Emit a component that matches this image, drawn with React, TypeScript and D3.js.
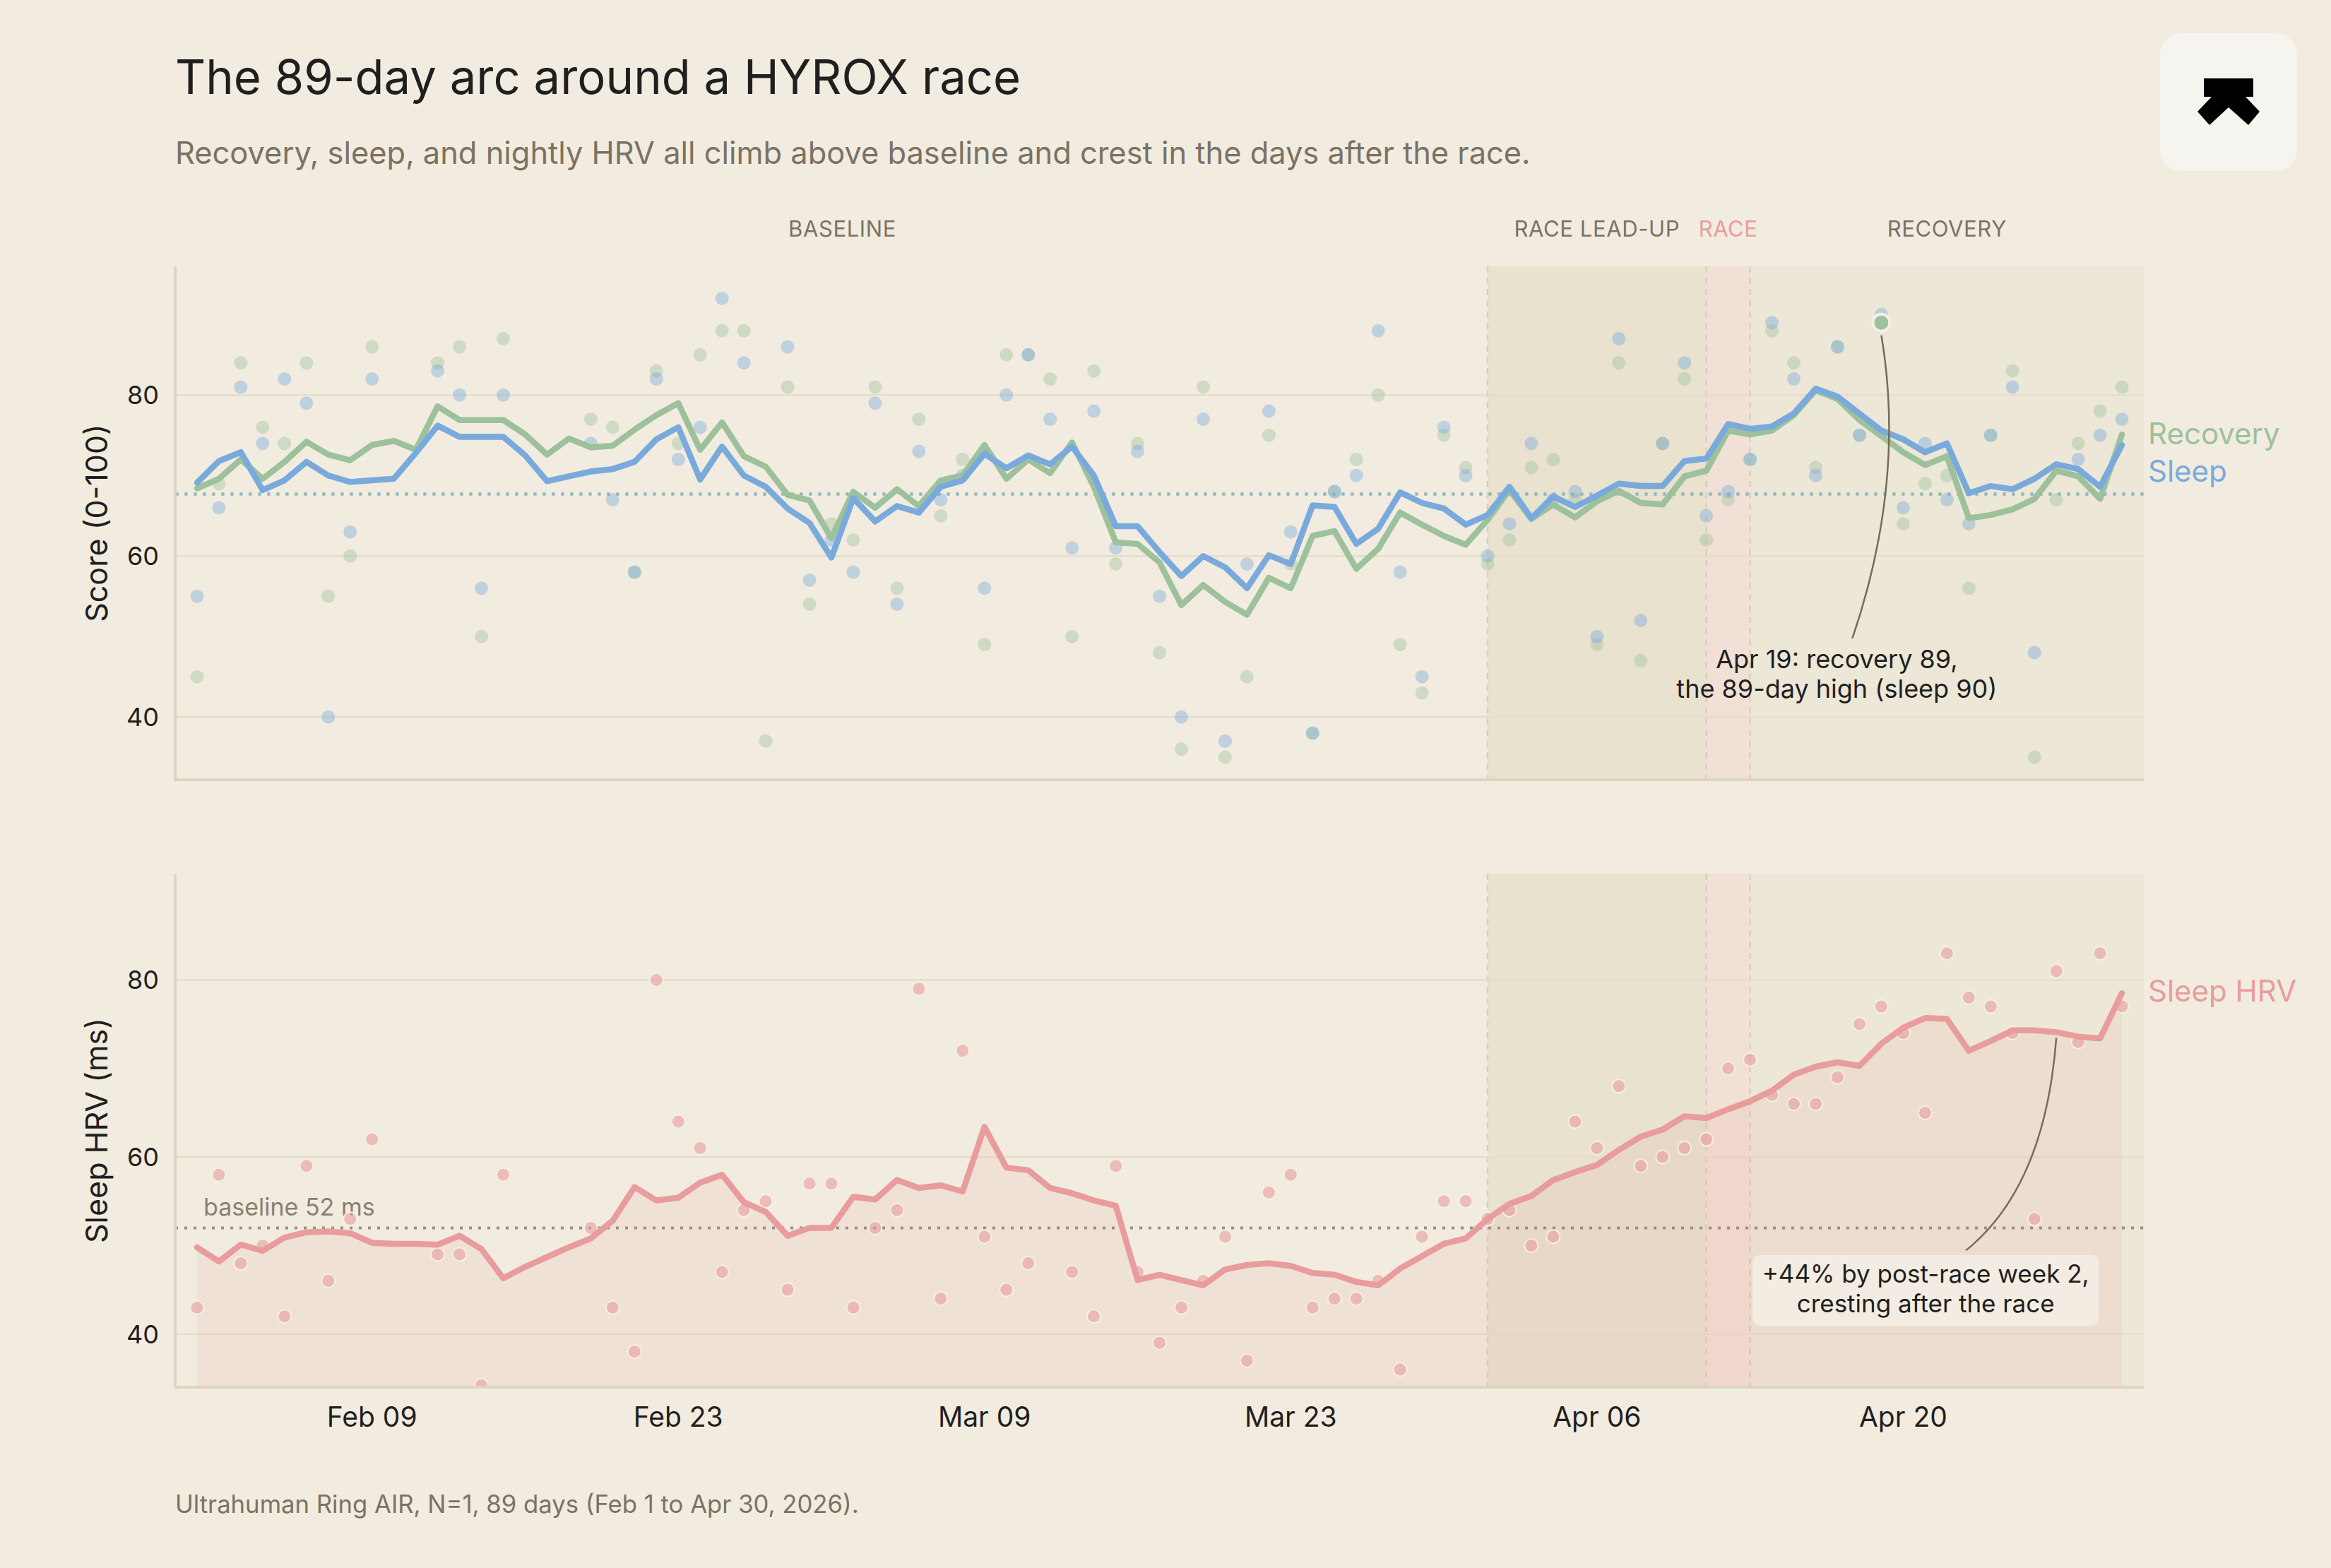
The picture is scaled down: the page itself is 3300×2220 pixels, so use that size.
import React, { useEffect } from "react";
import * as d3 from "d3";

// ---------- data ----------
const startDate = "2026-02-01";
const domainStart = "2026-01-31";
const domainEnd = "2026-05-01";

const recoveryAvg = [
  68.4, 69.6, 72.0, 69.6, 71.7, 74.2, 72.6, 71.9, 73.8, 74.3,
  73.2, 78.6, 76.9, 76.9, 76.9, 75.1, 72.6, 74.6, 73.5, 73.7,
  75.7, 77.5, 79.0, 73.2, 76.6, 72.4, 71.1, 67.6, 66.9, 62.2,
  68.0, 66.0, 68.3, 66.2, 69.4, 70.0, 73.8, 69.6, 72.0, 70.3,
  74.1, 68.6, 61.7, 61.5, 59.2, 53.9, 56.4, 54.3, 52.7, 57.3,
  56.0, 62.5, 63.1, 58.4, 60.9, 65.4, 63.9, 62.5, 61.4, 64.5,
  68.2, 64.6, 66.4, 64.8, 66.8, 68.1, 66.6, 66.4, 69.9, 70.6,
  75.6, 75.1, 75.6, 77.5, 80.6, 79.5, 76.9, 74.9, 72.9, 71.3,
  72.4, 64.7, 65.1, 65.8, 67.1, 70.6, 69.9, 67.1, 75.1,
];
const sleepAvg = [
  69.1, 71.8, 72.9, 68.2, 69.4, 71.7, 70.0, 69.2, 69.4, 69.6,
  72.8, 76.2, 74.8, 74.8, 74.8, 72.5, 69.3, 69.9, 70.5, 70.8,
  71.7, 74.5, 76.0, 69.5, 73.6, 70.0, 68.6, 65.9, 64.1, 59.8,
  67.2, 64.3, 66.2, 65.4, 68.6, 69.4, 72.7, 70.9, 72.5, 71.4,
  73.6, 70.0, 63.7, 63.7, 60.5, 57.5, 60.0, 58.6, 56.0, 60.1,
  59.0, 66.3, 66.1, 61.5, 63.4, 67.9, 66.6, 65.9, 63.9, 65.1,
  68.6, 64.7, 67.4, 66.1, 67.5, 69.0, 68.7, 68.7, 71.8, 72.1,
  76.4, 75.8, 76.1, 77.7, 80.8, 79.8, 77.7, 75.6, 74.5, 72.9,
  74.0, 67.8, 68.7, 68.3, 69.6, 71.4, 70.8, 68.6, 73.8,
];
const recoveryRaw: (number | null)[] = [
  45, 69, 84, 76, 74, 84, 55, 60, 86, null,
  null, 84, 86, 50, 87, null, null, null, 77, 76,
  58, 83, 74, 85, 88, 88, 37, 81, 54, 64,
  62, 81, 56, 77, 65, 72, 49, 85, 85, 82,
  50, 83, 59, 74, 48, 36, 81, 35, 45, 75,
  59, 38, 68, 72, 80, 49, 43, 75, 71, 59,
  62, 71, 72, 67, 49, 84, 47, 74, 82, 62,
  67, 72, 88, 84, 71, 86, 75, 89, 64, 69,
  70, 56, 75, 83, 35, 67, 74, 78, 81,
];
const sleepRaw: (number | null)[] = [
  55, 66, 81, 74, 82, 79, 40, 63, 82, null,
  null, 83, 80, 56, 80, null, null, null, 74, 67,
  58, 82, 72, 76, 92, 84, null, 86, 57, 62,
  58, 79, 54, 73, 67, 70, 56, 80, 85, 77,
  61, 78, 61, 73, 55, 40, 77, 37, 59, 78,
  63, 38, 68, 70, 88, 58, 45, 76, 70, 60,
  64, 74, 67, 68, 50, 87, 52, 74, 84, 65,
  68, 72, 89, 82, 70, 86, 75, 90, 66, 74,
  67, 64, 75, 81, 48, null, 72, 75, 77,
];
const hrvAvg = [
  49.8, 48.2, 50.1, 49.4, 50.9, 51.5, 51.6, 51.4, 50.3, 50.2,
  50.2, 50.1, 51.1, 49.6, 46.3, 47.6, 48.7, 49.8, 50.8, 52.8,
  56.6, 55.1, 55.4, 57.1, 58.0, 54.9, 53.8, 51.1, 52.0, 52.0,
  55.5, 55.2, 57.4, 56.5, 56.8, 56.1, 63.4, 58.8, 58.5, 56.5,
  55.9, 55.1, 54.5, 46.1, 46.7, 46.1, 45.5, 47.3, 47.8, 48.0,
  47.7, 46.9, 46.7, 45.9, 45.5, 47.4, 48.8, 50.2, 50.8, 53.0,
  54.7, 55.6, 57.4, 58.3, 59.1, 60.8, 62.3, 63.1, 64.6, 64.4,
  65.4, 66.3, 67.5, 69.3, 70.2, 70.7, 70.3, 72.8, 74.6, 75.7,
  75.6, 72.0, 73.1, 74.3, 74.3, 74.1, 73.6, 73.4, 78.5,
];
const hrvRaw: (number | null)[] = [
  43, 58, 48, 50, 42, 59, 46, 53, 62, null,
  null, 49, 49, 34.2, 58, null, null, null, 52, 43,
  38, 80, 64, 61, 47, 54, 55, 45, 57, 57,
  43, 52, 54, 79, 44, 72, 51, 45, 48, null,
  47, 42, 59, 47, 39, 43, 46, 51, 37, 56,
  58, 43, 44, 44, 46, 36, 51, 55, 55, 53,
  54, 50, 51, 64, 61, 68, 59, 60, 61, 62,
  70, 71, 67, 66, 66, 69, 75, 77, 74, 65,
  83, 78, 77, 74, 53, 81, 73, 83, 77,
];

const tickDates = ["2026-02-09", "2026-02-23", "2026-03-09", "2026-03-23", "2026-04-06", "2026-04-20"];
const scoreTicks = [40, 60, 80];
const hrvTicks = [40, 60, 80];
const scoreDomain = [32.2, 96];
const hrvDomain = [34, 92];

const phases = [
  { label: "BASELINE", start: "2026-02-01", end: "2026-04-01", kind: "baseline" },
  { label: "RACE LEAD-UP", start: "2026-04-01", end: "2026-04-11", kind: "lead" },
  { label: "RACE", start: "2026-04-11", end: "2026-04-13", kind: "race" },
  { label: "RECOVERY", start: "2026-04-13", end: "2026-05-01", kind: "recovery" },
];

const recoveryBaseline = 67.7;
const sleepBaseline = 67.7;
const hrvBaseline = 52;
const highlightDate = "2026-04-19";
const highlightValue = 89;
const hrvNoteDate = "2026-04-27";

// ---------- style ----------
const C = {
  bg: "#f2ece0",
  green: "#9dc19b",
  blue: "#7aaadc",
  pink: "#e89c9c",
  grid: "#e6ddcb",
  axis: "#ddd5c1",
  text: "#1f1f1f",
  muted: "#7b7264",
  lead: "#e8e2cf",
  race: "#f0e0d6",
  recovery: "#ede7d7",
  divider: "#d8cfbd",
};
const FONT = "Inter, 'Noto Sans', sans-serif";

const W = 3300;
const H = 2220;
const L = 248;
const R = 3035;
const top1 = 377, bot1 = 1104;
const top2 = 1237, bot2 = 1964;

const parse = d3.utcParse("%Y-%m-%d");
const dates = recoveryAvg.map((_, i) => d3.utcDay.offset(parse(startDate)!, i));

export default function App() {
  useEffect(() => {
    document.body.style.margin = "0";
    document.body.style.background = C.bg;
  }, []);

  const x = d3.scaleUtc().domain([parse(domainStart)!, parse(domainEnd)!]).range([L, R]);
  const y1 = d3.scaleLinear().domain(scoreDomain).range([bot1, top1]);
  const y2 = d3.scaleLinear().domain(hrvDomain).range([bot2, top2]);

  const lineFor = (ys: d3.ScaleLinear<number, number>) =>
    d3.line<number>().x((_, i) => x(dates[i])).y((v) => ys(v));
  const recLine = lineFor(y1)(recoveryAvg)!;
  const slpLine = lineFor(y1)(sleepAvg)!;
  const hrvLine = lineFor(y2)(hrvAvg)!;
  const hrvArea = d3
    .area<number>()
    .x((_, i) => x(dates[i]))
    .y0(bot2)
    .y1((v) => y2(v))(hrvAvg)!;

  const bandFill: Record<string, string> = { lead: C.lead, race: C.race, recovery: C.recovery };

  const bands = (top: number, bot: number) =>
    phases
      .filter((p) => p.kind !== "baseline")
      .map((p) => (
        <rect
          key={p.label + top}
          x={x(parse(p.start)!)}
          y={top}
          width={x(parse(p.end)!) - x(parse(p.start)!)}
          height={bot - top}
          fill={bandFill[p.kind]}
        />
      ));

  const dividers = (top: number, bot: number) =>
    [phases[1].start, phases[2].start, phases[2].end].map((d) => (
      <line
        key={d + top}
        x1={x(parse(d)!)}
        x2={x(parse(d)!)}
        y1={top}
        y2={bot}
        stroke={C.divider}
        strokeWidth={2.5}
        strokeDasharray="9 7"
      />
    ));

  const grid = (ys: d3.ScaleLinear<number, number>, ticks: number[], key: string) =>
    ticks.map((t) => (
      <line key={key + t} x1={L} x2={R} y1={ys(t)} y2={ys(t)} stroke={C.grid} strokeWidth={2.5} />
    ));

  const yLabels = (ys: d3.ScaleLinear<number, number>, ticks: number[], key: string) =>
    ticks.map((t) => (
      <text key={key + t} x={225} y={ys(t) + 13} textAnchor="end" fontSize={36} fill={C.text}>
        {t}
      </text>
    ));

  const dots = (vals: (number | null)[], ys: d3.ScaleLinear<number, number>, color: string, op: number, stroke?: string) =>
    vals.map((v, i) =>
      v == null ? null : (
        <circle
          key={color + i}
          cx={x(dates[i])}
          cy={ys(v)}
          r={9.5}
          fill={color}
          fillOpacity={op}
          stroke={stroke || "none"}
          strokeWidth={stroke ? 2 : 0}
        />
      )
    );

  const fmt = d3.utcFormat("%b %d");
  const hx = x(parse(highlightDate)!);
  const hy = y1(highlightValue);

  const nIdx = dates.findIndex((d) => +d === +parse(hrvNoteDate)!);
  const nx = x(dates[nIdx]);
  const ny = y2(hrvAvg[nIdx]) + 8;

  return (
    <svg width={W} height={H} style={{ display: "block", fontFamily: FONT }}>
      <defs>
        <clipPath id="clip1">
          <rect x={L} y={top1} width={R - L} height={bot1 - top1} />
        </clipPath>
        <clipPath id="clip2">
          <rect x={L} y={top2} width={R - L} height={bot2 - top2} />
        </clipPath>
      </defs>
      <rect x={0} y={0} width={W} height={H} fill={C.bg} />

      {/* Title */}
      <text x={L} y={133} fontSize={67} fill={C.text}>
        The 89-day arc around a HYROX race
      </text>
      <text x={L} y={232} fontSize={43.4} fill={C.muted}>
        Recovery, sleep, and nightly HRV all climb above baseline and crest in the days after the race.
      </text>

      {/* Logo */}
      <rect x={3058} y={47} width={194} height={195} rx={30} fill="#f6f4ee" />
      <rect x={3120} y={111} width={70} height={26} fill="#000" />
      <polygon points="3132,136 3178,136 3199,158 3183,177 3155,152 3128,177 3111,158" fill="#000" />

      {/* Phase labels */}
      {phases.map((p) => {
        const cx = (x(p.kind === "baseline" ? dates[0] : parse(p.start)!) + x(parse(p.end)!)) / 2;
        return (
          <text
            key={p.label}
            x={cx}
            y={335}
            textAnchor="middle"
            fontSize={31}
            letterSpacing={0.6}
            fill={p.kind === "race" ? C.pink : C.muted}
          >
            {p.label}
          </text>
        );
      })}

      {/* ---------- Panel 1 ---------- */}
      {bands(top1, bot1)}
      {dividers(top1, bot1)}
      {grid(y1, scoreTicks, "g1")}
      {yLabels(y1, scoreTicks, "l1")}
      <line x1={L} x2={R} y1={y1(recoveryBaseline)} y2={y1(recoveryBaseline)} stroke={C.green} strokeOpacity={0.8} strokeWidth={4.5} strokeDasharray="4 9" />
      <line x1={L} x2={R} y1={y1(sleepBaseline)} y2={y1(sleepBaseline)} stroke={C.blue} strokeOpacity={0.5} strokeWidth={4.5} strokeDasharray="4 9" strokeDashoffset={-1} />
      <g clipPath="url(#clip1)">
        {dots(recoveryRaw, y1, C.green, 0.42)}
        {dots(sleepRaw, y1, C.blue, 0.42)}
      </g>
      <path d={recLine} fill="none" stroke={C.green} strokeWidth={8.5} strokeLinejoin="round" strokeLinecap="round" />
      <path d={slpLine} fill="none" stroke={C.blue} strokeWidth={8.5} strokeLinejoin="round" strokeLinecap="round" />
      <line x1={L} x2={L} y1={top1} y2={bot1} stroke={C.axis} strokeWidth={4} />
      <line x1={L - 2} x2={R} y1={bot1} y2={bot1} stroke={C.axis} strokeWidth={4} />
      <text x={0} y={0} transform={`translate(136,${(top1 + bot1) / 2}) rotate(-90)`} textAnchor="middle" dominantBaseline="central" fontSize={43} fill={C.text}>
        Score (0-100)
      </text>
      <text x={R + 6} y={629} fontSize={42} fill={C.green}>Recovery</text>
      <text x={R + 6} y={682} fontSize={42} fill={C.blue}>Sleep</text>

      {/* highlight annotation */}
      <path
        d={`M${hx},${hy + 18} Q${hx + 35},${hy + 224} ${hx - 41},${hy + 447}`}
        fill="none"
        stroke="#776b5d"
        strokeWidth={2.5}
      />
      <circle cx={hx} cy={hy} r={12} fill={C.green} stroke="#f4efe6" strokeWidth={4} />
      <text textAnchor="middle" fontSize={36} fill={C.text}>
        <tspan x={hx - 63} y={946}>Apr 19: recovery 89,</tspan>
        <tspan x={hx - 63} y={988}>the 89-day high (sleep 90)</tspan>
      </text>

      {/* ---------- Panel 2 ---------- */}
      {bands(top2, bot2)}
      {dividers(top2, bot2)}
      {grid(y2, hrvTicks, "g2")}
      {yLabels(y2, hrvTicks, "l2")}
      <path d={hrvArea} fill={C.pink} fillOpacity={0.13} />
      <line x1={L} x2={R} y1={y2(hrvBaseline)} y2={y2(hrvBaseline)} stroke="#9a907f" strokeWidth={4} strokeDasharray="4 9" />
      <text x={288} y={y2(hrvBaseline) - 17} fontSize={34} fill="#8a8070">baseline 52 ms</text>
      <g clipPath="url(#clip2)">{dots(hrvRaw, y2, C.pink, 0.6, "#f6efe4")}</g>
      <path d={hrvLine} fill="none" stroke={C.pink} strokeWidth={8.5} strokeLinejoin="round" strokeLinecap="round" />
      <line x1={L} x2={L} y1={top2} y2={bot2} stroke={C.axis} strokeWidth={4} />
      <line x1={L - 2} x2={R} y1={bot2} y2={bot2} stroke={C.axis} strokeWidth={4} />
      <text x={0} y={0} transform={`translate(136,${(top2 + bot2) / 2}) rotate(-90)`} textAnchor="middle" dominantBaseline="central" fontSize={43} fill={C.text}>
        Sleep HRV (ms)
      </text>
      <text x={R + 6} y={1418} fontSize={42} fill={C.pink}>Sleep HRV</text>

      {/* HRV annotation */}
      <path d={`M${nx},${ny} Q${nx - 16},${ny + 211} ${nx - 128},${ny + 301}`} fill="none" stroke="#776b5d" strokeWidth={2.5} />
      <rect x={nx - 430} y={1777} width={490} height={100} rx={10} fill="#f3ece2" />
      <text textAnchor="middle" fontSize={35} fill={C.text}>
        <tspan x={nx - 185} y={1816}>+44% by post-race week 2,</tspan>
        <tspan x={nx - 185} y={1858}>cresting after the race</tspan>
      </text>

      {/* x axis ticks */}
      {tickDates.map((d) => (
        <text key={d} x={x(parse(d)!)} y={2020} textAnchor="middle" fontSize={39} fill={C.text}>
          {fmt(parse(d)!)}
        </text>
      ))}

      <text x={L} y={2142} fontSize={34.7} fill={C.muted}>
        Ultrahuman Ring AIR, N=1, 89 days (Feb 1 to Apr 30, 2026).
      </text>
    </svg>
  );
}
